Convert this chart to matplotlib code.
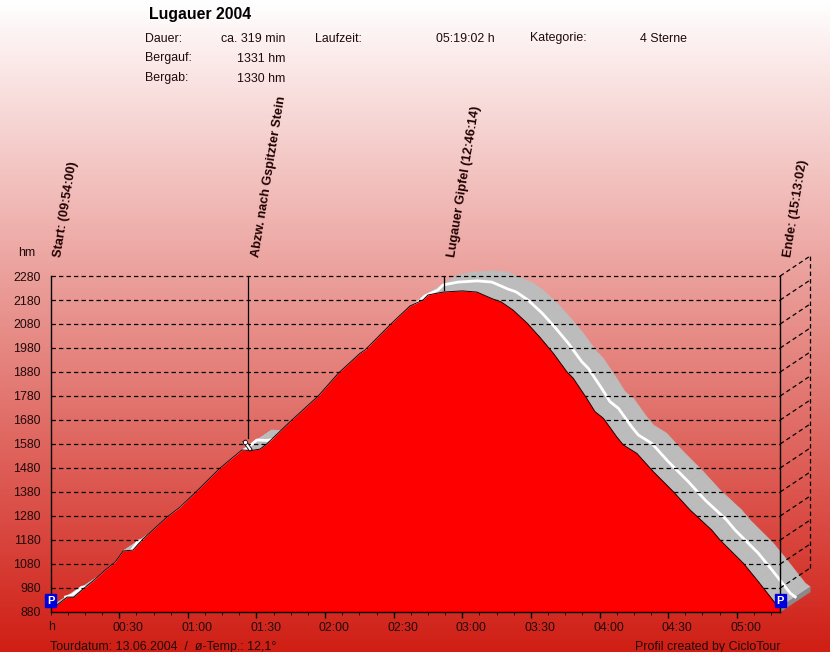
import numpy as np
import matplotlib
matplotlib.use("Agg")
import matplotlib.pyplot as plt
from matplotlib.patches import Polygon

plt.rcParams['font.family'] = ['Liberation Sans', 'DejaVu Sans']

# time since start (minutes) and altitude (hm)
minutes = [0, 2.8, 7.2, 10.2, 14.2, 18.5, 24, 28.2, 29.5, 31.7, 36, 40.4, 50.9, 56.6, 65.3, 74.1, 83.6, 88.1,
           91.6, 94.5, 104.7, 117, 125.8, 135.3, 137.5, 149.1, 157.1, 162.8, 165, 171.6, 180, 186.4, 193.4, 197,
           202.2, 208.3, 214, 219.8, 225.7, 228.5, 234.4, 238, 241.7, 247.5, 250.4, 256.3, 263.5, 272.3, 279.6,
           289, 292.7, 302.8, 308.9, 316.8, 319]
altitude = [901, 909, 942, 942, 976, 1009, 1056, 1088, 1105, 1134, 1138, 1184, 1276, 1317, 1397, 1480, 1555, 1553,
            1559, 1580, 1673, 1780, 1875, 1958, 1972, 2083, 2155, 2180, 2201, 2213, 2218, 2213, 2184, 2172,
            2138, 2084, 2024, 1958, 1881, 1854, 1770, 1715, 1687, 1610, 1576, 1541, 1465, 1381, 1305,
            1222, 1180, 1084, 1013, 917, 901]
y_ticks = list(range(880, 2281, 100))
x_major = [30, 60, 90, 120, 150, 180, 210, 240, 270, 300]
x_labels = ['00:30', '01:00', '01:30', '02:00', '02:30', '03:00', '03:30', '04:00', '04:30', '05:00']
x_minor = [m * 7.5 for m in range(0, 43)]
markers = ['Start: (09:54:00)', 'Abzw. nach Gspitzter Stein', 'Lugauer Gipfel (12:46:14)', 'Ende: (15:13:02)']
marker_pos = [0, 86.5, 172, 319]
marker_alt = [2280, 1605, 2222, 2280]

W, H = 830, 652
fig = plt.figure(figsize=(W / 100, H / 100), dpi=100)

bg = fig.add_axes([0, 0, 1, 1], zorder=0)
bg.axis('off')
ramp = np.linspace(0, 1, H)[:, None, None]
top = np.array([1.0, 1.0, 1.0])
bot = np.array([208, 30, 20]) / 255
bg.imshow(top + (bot - top) * ramp, aspect='auto', interpolation='bilinear')

L, R, T, B = 50.6, 780.2, 276.0, 612.0
ax = fig.add_axes([L / W, 1 - B / H, (R - L) / W, (B - T) / H], zorder=1)
ax.patch.set_alpha(0)
ax.set_xlim(0, 319)
ax.set_ylim(880, 2280)
for s in ax.spines.values():
    s.set_visible(False)

dx = 30 * 319 / (R - L)
dy = 20 * 1400 / (B - T)
xs = np.array(minutes, float)
ys = np.array(altitude, float)

# extruded surface
for i in range(len(xs) - 1):
    ax.add_patch(Polygon([(xs[i], ys[i]), (xs[i + 1], ys[i + 1]), (xs[i + 1] + dx, ys[i + 1] + dy), (xs[i] + dx, ys[i] + dy)],
                         closed=True, fc='#bcbcbc', ec='#bcbcbc', lw=0.5, zorder=2, clip_on=False))
ax.add_patch(Polygon([(319, 880), (319 + dx, 880 + dy), (319 + dx, 901 + dy), (319, 901)],
                     closed=True, fc='#8a8a8a', ec='#8a8a8a', lw=0.3, zorder=2.1, clip_on=False))
ax.plot(xs + dx / 2, ys + dy / 2, color='white', lw=2.0, zorder=3, clip_on=False)

# grid, with the receding side lines
dash = (0, (3.5, 2.5))
for v in y_ticks[1:]:
    ax.plot([0, 319], [v, v], color='black', lw=0.9, ls=dash, zorder=4, clip_on=False)
    ax.plot([319, 319 + dx], [v, v + dy], color='black', lw=0.9, ls=dash, zorder=4, clip_on=False)
ax.plot([319 + dx, 319 + dx], [980 + dy, 2280 + dy], color='black', lw=0.9, ls=dash, zorder=4, clip_on=False)

ax.fill_between(xs, 880, ys, color='#ff0000', lw=0, zorder=5)
ax.plot(xs, ys, color='#200000', lw=0.7, zorder=6, clip_on=False)

ax.plot([0, 319], [880, 880], color='black', lw=1, zorder=7, clip_on=False)
ax.plot([0, 0], [880, 2280], color='black', lw=1, zorder=7, clip_on=False)
ax.plot([319, 319], [880, 2280], color='black', lw=1, zorder=7, clip_on=False)

ax.set_xticks(x_major)
ax.set_xticklabels([])
ax.set_xticks(x_minor, minor=True)
ax.set_yticks(y_ticks)
ax.set_yticklabels([str(v) for v in y_ticks], fontsize=8.9, color='#200a0a')
ax.tick_params(axis='y', length=0, pad=7)
ax.tick_params(axis='x', which='major', length=4, width=1, color='black')
ax.tick_params(axis='x', which='minor', length=2, width=0.7, color='#400000')
for m, lab in zip(x_major, x_labels):
    ax.annotate(lab, (m, 880), xytext=(-4.6, -13.8), textcoords='offset points', ha='left', va='baseline',
                fontsize=8.9, color='#200a0a', annotation_clip=False)

# marker stems and rotated captions
ax.plot([marker_pos[1]] * 2, [marker_alt[1], 2280], color='black', lw=0.9, zorder=7)
ax.plot([marker_pos[2]] * 2, [marker_alt[2], 2280], color='black', lw=0.9, zorder=7)
for m, txt in zip(marker_pos, markers):
    ax.annotate(txt, (m, 2280), xytext=(5.6, 13.5), textcoords='offset points', rotation=80.8,
                rotation_mode='anchor', ha='left', va='center', fontsize=9.2, fontweight='bold',
                color='#200000', annotation_clip=False)

# pin on the waypoint
ax.plot([85, 87.2], [1588, 1559], color='black', lw=2.8, zorder=8)
ax.plot([85, 87.2], [1588, 1559], color='white', lw=1.6, zorder=8)
ax.plot([85], [1590], 'o', ms=3, mfc='white', mec='black', mew=0.5, zorder=8)

# parking badges at both ends
for m in (0, 319):
    ax.annotate('P', (m, 901), xytext=(0, 4.5), textcoords='offset points', ha='center', va='center',
                fontsize=8, fontweight='bold', color='white', annotation_clip=False, zorder=9,
                bbox=dict(boxstyle='square,pad=0.15', fc='#0000dd', ec='#0000dd'))


def label(x, y, s, **kw):
    kw.setdefault('fontsize', 8.9)
    kw.setdefault('color', '#200a0a')
    fig.text(x / W, 1 - y / H, s, va='baseline', zorder=10, **kw)


label(149, 18.5, 'Lugauer 2004', fontsize=11.4, fontweight='bold', color='black')
label(145, 41.5, 'Dauer:')
label(145, 61.5, 'Bergauf:')
label(145, 81.5, 'Bergab:')
label(285, 41.5, 'ca. 319 min', ha='right')
label(285, 61.5, '1331 hm', ha='right')
label(285, 81.5, '1330 hm', ha='right')
label(315, 41.5, 'Laufzeit:')
label(495, 41.5, '05:19:02 h', ha='right')
label(530, 41.5, 'Kategorie:')
label(640, 41.5, '4 Sterne')
label(18, 256, 'hm')
label(48, 630, 'h')
label(50, 650, 'Tourdatum: 13.06.2004  /  ø-Temp.: 12,1°')
label(780, 650, 'Profil created by CicloTour', ha='right')

fig.savefig('out.png', dpi=100)
